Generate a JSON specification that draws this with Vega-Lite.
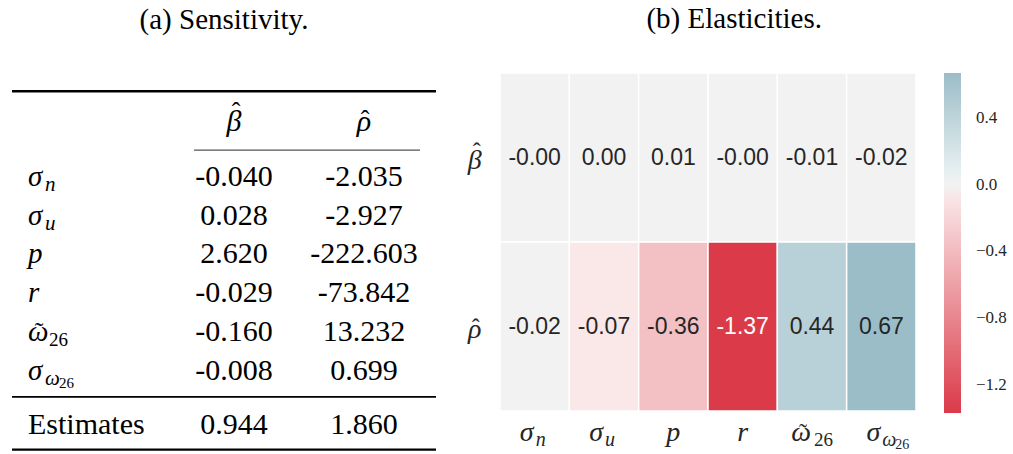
{
  "$schema": "https://vega.github.io/schema/vega-lite/v6.json",
  "background": "white",
  "padding": {"left": 10, "top": 5, "right": 0, "bottom": 0},
  "spacing": 29,
  "config": {
    "view": {"stroke": null},
    "locale": {"number": {"decimal": ".", "thousands": ",", "grouping": [3], "currency": ["$", ""], "minus": "-"}},
    "title": {"font": "Liberation Serif", "fontSize": 29, "fontWeight": "normal", "color": "#000000", "anchor": "middle"}
  },
  "datasets": {
    "table": [
      {"key": "sn", "sym": "σ", "acc": "", "subi": "n", "subn": "", "subsub": "", "beta": -0.040, "rho": -2.035},
      {"key": "su", "sym": "σ", "acc": "", "subi": "u", "subn": "", "subsub": "", "beta": 0.028, "rho": -2.927},
      {"key": "p", "sym": "p", "acc": "", "subi": "", "subn": "", "subsub": "", "beta": 2.620, "rho": -222.603},
      {"key": "r", "sym": "r", "acc": "", "subi": "", "subn": "", "subsub": "", "beta": -0.029, "rho": -73.842},
      {"key": "w", "sym": "ω", "acc": "˜", "subi": "", "subn": "26", "subsub": "", "beta": -0.160, "rho": 13.232},
      {"key": "sw", "sym": "σ", "acc": "", "subi": "ω", "subn": "", "subsub": "26", "beta": -0.008, "rho": 0.699},
      {"key": "est", "sym": "Estimates", "acc": "", "subi": "", "subn": "", "subsub": "", "beta": 0.944, "rho": 1.860}
    ],
    "head": [
      {"col": "beta", "est": "β̂", "g": "β", "hat": "ˆ"},
      {"col": "rho", "est": "ρ̂", "g": "ρ", "hat": "ˆ"}
    ],
    "cells": [
      {"est": "β̂", "key": "sn", "v": -0.003},
      {"est": "β̂", "key": "su", "v": 0.002},
      {"est": "β̂", "key": "p", "v": 0.01},
      {"est": "β̂", "key": "r", "v": -0.002},
      {"est": "β̂", "key": "w", "v": -0.01},
      {"est": "β̂", "key": "sw", "v": -0.02},
      {"est": "ρ̂", "key": "sn", "v": -0.02},
      {"est": "ρ̂", "key": "su", "v": -0.07},
      {"est": "ρ̂", "key": "p", "v": -0.36},
      {"est": "ρ̂", "key": "r", "v": -1.37},
      {"est": "ρ̂", "key": "w", "v": 0.44},
      {"est": "ρ̂", "key": "sw", "v": 0.67}
    ],
    "one": [{"n": 1}]
  },
  "hconcat": [
    {
      "width": 424,
      "height": 349,
      "title": {"text": "(a) Sensitivity.", "offset": 38},
      "layer": [
        {
          "data": {"name": "table"},
          "transform": [{"filter": "datum.key != 'est'"}, {"fold": ["beta", "rho"], "as": ["col", "v"]}],
          "mark": {"type": "text", "font": "Liberation Serif", "fontSize": 30, "baseline": "alphabetic", "align": "center", "color": "#000000"},
          "encoding": {
            "x": {"field": "col", "type": "nominal", "scale": {"type": "point", "domain": ["lab", "beta", "rho"], "padding": 0.631, "align": 0.561}, "axis": null},
            "y": {"field": "key", "type": "ordinal", "scale": {"type": "point", "domain": ["hdr", "sn", "su", "p", "r", "w", "sw", "est"], "padding": 1, "align": 0.956}, "axis": null},
            "text": {"field": "v", "type": "quantitative", "format": ".3f"}
          }
        },
        {
          "data": {"name": "table"},
          "transform": [{"filter": "datum.key == 'est'"}, {"fold": ["beta", "rho"], "as": ["col", "v"]}],
          "mark": {"type": "text", "font": "Liberation Serif", "fontSize": 30, "baseline": "alphabetic", "align": "center", "color": "#000000", "dy": 15},
          "encoding": {
            "x": {"field": "col", "type": "nominal"},
            "y": {"field": "key", "type": "ordinal"},
            "text": {"field": "v", "type": "quantitative", "format": ".3f"}
          }
        },
        {
          "data": {"name": "head"},
          "mark": {"type": "text", "font": "Liberation Serif", "fontStyle": "italic", "fontSize": 30, "baseline": "alphabetic", "align": "center", "color": "#000000", "dy": -16},
          "encoding": {
            "x": {"field": "col", "type": "nominal"},
            "y": {"datum": "hdr", "type": "ordinal"},
            "text": {"field": "g", "type": "nominal"}
          }
        },
        {
          "data": {"name": "head"},
          "transform": [{"filter": "datum.col == 'beta'"}],
          "mark": {"type": "text", "font": "Liberation Serif", "fontSize": 26, "baseline": "alphabetic", "align": "center", "color": "#000000", "dx": 2, "dy": -27},
          "encoding": {
            "x": {"field": "col", "type": "nominal"},
            "y": {"datum": "hdr", "type": "ordinal"},
            "text": {"field": "hat", "type": "nominal"}
          }
        },
        {
          "data": {"name": "head"},
          "transform": [{"filter": "datum.col == 'rho'"}],
          "mark": {"type": "text", "font": "Liberation Serif", "fontSize": 26, "baseline": "alphabetic", "align": "center", "color": "#000000", "dx": 1, "dy": -19},
          "encoding": {
            "x": {"field": "col", "type": "nominal"},
            "y": {"datum": "hdr", "type": "ordinal"},
            "text": {"field": "hat", "type": "nominal"}
          }
        },
        {
          "data": {"name": "table"},
          "transform": [{"filter": "datum.key != 'est'"}],
          "mark": {"type": "text", "font": "Liberation Serif", "fontStyle": "italic", "fontSize": 29, "baseline": "alphabetic", "align": "left", "color": "#000000", "dx": -76},
          "encoding": {
            "x": {"datum": "lab", "type": "nominal"},
            "y": {"field": "key", "type": "ordinal"},
            "text": {"field": "sym", "type": "nominal"}
          }
        },
        {
          "data": {"name": "table"},
          "transform": [{"filter": "datum.key != 'est'"}],
          "mark": {"type": "text", "font": "Liberation Serif", "fontSize": 26, "baseline": "alphabetic", "align": "center", "color": "#000000", "dx": -65, "dy": -1},
          "encoding": {
            "x": {"datum": "lab", "type": "nominal"},
            "y": {"field": "key", "type": "ordinal"},
            "text": {"field": "acc", "type": "nominal"}
          }
        },
        {
          "data": {"name": "table"},
          "transform": [{"filter": "datum.key != 'est'"}],
          "mark": {"type": "text", "font": "Liberation Serif", "fontStyle": "italic", "fontSize": 21, "baseline": "alphabetic", "align": "left", "color": "#000000", "dx": -59, "dy": 5},
          "encoding": {
            "x": {"datum": "lab", "type": "nominal"},
            "y": {"field": "key", "type": "ordinal"},
            "text": {"field": "subi", "type": "nominal"}
          }
        },
        {
          "data": {"name": "table"},
          "transform": [{"filter": "datum.key != 'est'"}],
          "mark": {"type": "text", "font": "Liberation Serif", "fontSize": 19, "baseline": "alphabetic", "align": "left", "color": "#000000", "dx": -55, "dy": 5},
          "encoding": {
            "x": {"datum": "lab", "type": "nominal"},
            "y": {"field": "key", "type": "ordinal"},
            "text": {"field": "subn", "type": "nominal"}
          }
        },
        {
          "data": {"name": "table"},
          "transform": [{"filter": "datum.key != 'est'"}],
          "mark": {"type": "text", "font": "Liberation Serif", "fontSize": 15, "baseline": "alphabetic", "align": "left", "color": "#000000", "dx": -45, "dy": 8},
          "encoding": {
            "x": {"datum": "lab", "type": "nominal"},
            "y": {"field": "key", "type": "ordinal"},
            "text": {"field": "subsub", "type": "nominal"}
          }
        },
        {
          "data": {"name": "table"},
          "transform": [{"filter": "datum.key == 'est'"}],
          "mark": {"type": "text", "font": "Liberation Serif", "fontSize": 30, "baseline": "alphabetic", "align": "left", "color": "#000000", "dx": -76, "dy": 15},
          "encoding": {
            "x": {"datum": "lab", "type": "nominal"},
            "y": {"field": "key", "type": "ordinal"},
            "text": {"field": "sym", "type": "nominal"}
          }
        },
        {
          "data": {"name": "one"},
          "mark": {"type": "rule", "color": "#000000", "strokeWidth": 2.5, "yOffset": -56},
          "encoding": {"y": {"datum": "hdr", "type": "ordinal"}}
        },
        {
          "data": {"name": "one"},
          "mark": {"type": "rule", "color": "#555555", "strokeWidth": 1.2, "yOffset": 3, "xOffset": -40, "x2Offset": 56},
          "encoding": {
            "x": {"datum": "beta", "type": "nominal"},
            "x2": {"datum": "rho"},
            "y": {"datum": "hdr", "type": "ordinal"}
          }
        },
        {
          "data": {"name": "one"},
          "mark": {"type": "rule", "color": "#000000", "strokeWidth": 1.8, "yOffset": 17},
          "encoding": {"y": {"datum": "sw", "type": "ordinal"}}
        },
        {
          "data": {"name": "one"},
          "mark": {"type": "rule", "color": "#000000", "strokeWidth": 2.2, "yOffset": 31},
          "encoding": {"y": {"datum": "est", "type": "ordinal"}}
        }
      ]
    },
    {
      "width": 416,
      "height": 338,
      "title": {"text": "(b) Elasticities.", "offset": 38, "frame": "bounds", "dx": 42},
      "layer": [
        {
          "data": {"name": "cells"},
          "mark": {"type": "rect", "stroke": "#ffffff", "strokeWidth": 1.5},
          "encoding": {
            "x": {"field": "key", "type": "nominal", "scale": {"domain": ["sn", "su", "p", "r", "w", "sw"], "paddingInner": 0, "paddingOuter": 0}, "axis": null},
            "y": {"field": "est", "type": "nominal", "scale": {"domain": ["β̂", "ρ̂"], "paddingInner": 0, "paddingOuter": 0}, "axis": null},
            "color": {
              "field": "v", "type": "quantitative",
              "scale": {"domain": [-1.37, -0.06, -0.05, 0.05, 0.06, 0.67], "range": ["#db3a48", "#fae8e9", "#f2f2f2", "#f2f2f2", "#e9f1f3", "#9bbdc7"], "interpolate": "rgb"},
              "legend": {"title": null, "orient": "right", "direction": "vertical", "values": [0.4, 0, -0.4, -0.8, -1.2], "gradientLength": 340, "gradientThickness": 17, "gradientStrokeWidth": 0, "labelFont": "Liberation Serif", "labelFontSize": 17, "labelColor": "#262626", "labelOffset": 15, "offset": 27, "padding": 0, "labelExpr": "replace(format(datum.value, '.1f'), '-', '−')"}
            }
          }
        },
        {
          "data": {"name": "cells"},
          "mark": {"type": "text", "font": "Liberation Sans", "fontSize": 23, "baseline": "middle", "align": "center",
                   "text": {"expr": "(datum.v < 0 ? '-' : '') + format(abs(datum.v), '.2f')"}},
          "encoding": {
            "x": {"field": "key", "type": "nominal"},
            "y": {"field": "est", "type": "nominal"},
            "color": {"condition": {"test": "datum.v < -1", "value": "#ffffff"}, "value": "#262626"}
          }
        },
        {
          "data": {"name": "head"},
          "mark": {"type": "text", "font": "Liberation Serif", "fontStyle": "italic", "fontSize": 28, "baseline": "alphabetic", "align": "center", "color": "#262626", "dx": -60, "dy": 11},
          "encoding": {
            "x": {"datum": "sn", "type": "nominal"},
            "y": {"field": "est", "type": "nominal"},
            "text": {"field": "g", "type": "nominal"}
          }
        },
        {
          "data": {"name": "head"},
          "transform": [{"filter": "datum.col == 'beta'"}],
          "mark": {"type": "text", "font": "Liberation Serif", "fontSize": 24, "baseline": "alphabetic", "align": "center", "color": "#262626", "dx": -58, "dy": 1},
          "encoding": {
            "x": {"datum": "sn", "type": "nominal"},
            "y": {"field": "est", "type": "nominal"},
            "text": {"field": "hat", "type": "nominal"}
          }
        },
        {
          "data": {"name": "head"},
          "transform": [{"filter": "datum.col == 'rho'"}],
          "mark": {"type": "text", "font": "Liberation Serif", "fontSize": 24, "baseline": "alphabetic", "align": "center", "color": "#262626", "dx": -59, "dy": 8},
          "encoding": {
            "x": {"datum": "sn", "type": "nominal"},
            "y": {"field": "est", "type": "nominal"},
            "text": {"field": "hat", "type": "nominal"}
          }
        },
        {
          "data": {"name": "table"},
          "transform": [{"filter": "datum.key != 'est' && (datum.subi != '' || datum.subn != '' || datum.subsub != '')"}],
          "mark": {"type": "text", "font": "Liberation Serif", "fontStyle": "italic", "fontSize": 28, "baseline": "alphabetic", "align": "right", "color": "#262626", "dx": -1, "yOffset": 114},
          "encoding": {
            "x": {"field": "key", "type": "nominal"},
            "y": {"datum": "ρ̂", "type": "nominal"},
            "text": {"field": "sym", "type": "nominal"}
          }
        },
        {
          "data": {"name": "table"},
          "transform": [{"filter": "datum.key != 'est'"}],
          "mark": {"type": "text", "font": "Liberation Serif", "fontSize": 24, "baseline": "alphabetic", "align": "center", "color": "#262626", "dx": -9, "dy": -1, "yOffset": 114},
          "encoding": {
            "x": {"field": "key", "type": "nominal"},
            "y": {"datum": "ρ̂", "type": "nominal"},
            "text": {"field": "acc", "type": "nominal"}
          }
        },
        {
          "data": {"name": "table"},
          "transform": [{"filter": "datum.key != 'est' && datum.subi == '' && datum.subn == '' && datum.subsub == ''"}],
          "mark": {"type": "text", "font": "Liberation Serif", "fontStyle": "italic", "fontSize": 28, "baseline": "alphabetic", "align": "center", "color": "#262626", "yOffset": 114},
          "encoding": {
            "x": {"field": "key", "type": "nominal"},
            "y": {"datum": "ρ̂", "type": "nominal"},
            "text": {"field": "sym", "type": "nominal"}
          }
        },
        {
          "data": {"name": "table"},
          "transform": [{"filter": "datum.key != 'est'"}],
          "mark": {"type": "text", "font": "Liberation Serif", "fontStyle": "italic", "fontSize": 20, "baseline": "alphabetic", "align": "left", "color": "#262626", "dx": 1, "dy": 5, "yOffset": 114},
          "encoding": {
            "x": {"field": "key", "type": "nominal"},
            "y": {"datum": "ρ̂", "type": "nominal"},
            "text": {"field": "subi", "type": "nominal"}
          }
        },
        {
          "data": {"name": "table"},
          "transform": [{"filter": "datum.key != 'est'"}],
          "mark": {"type": "text", "font": "Liberation Serif", "fontSize": 19, "baseline": "alphabetic", "align": "left", "color": "#262626", "dx": 2, "dy": 5, "yOffset": 114},
          "encoding": {
            "x": {"field": "key", "type": "nominal"},
            "y": {"datum": "ρ̂", "type": "nominal"},
            "text": {"field": "subn", "type": "nominal"}
          }
        },
        {
          "data": {"name": "table"},
          "transform": [{"filter": "datum.key != 'est'"}],
          "mark": {"type": "text", "font": "Liberation Serif", "fontSize": 14, "baseline": "alphabetic", "align": "left", "color": "#262626", "dx": 14, "dy": 8, "yOffset": 114},
          "encoding": {
            "x": {"field": "key", "type": "nominal"},
            "y": {"datum": "ρ̂", "type": "nominal"},
            "text": {"field": "subsub", "type": "nominal"}
          }
        }
      ]
    }
  ]
}
